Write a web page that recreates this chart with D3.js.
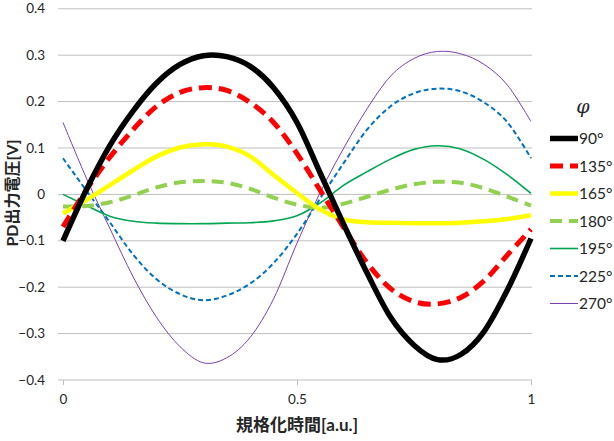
<!DOCTYPE html>
<html lang="ja">
<head>
<meta charset="utf-8">
<title>PD output voltage</title>
<script src="https://cdn.jsdelivr.net/npm/d3@7"></script>
<style>
  body { margin: 0; background: #fff; }
  text { font-family: Lato, "Noto Sans CJK JP", sans-serif; fill: #262626; }
</style>
</head>
<body>
<div id="chart"></div>
<script>
var W = 614, H = 441;

// normalized time samples
var times = [0, 0.05, 0.1, 0.15, 0.2, 0.25, 0.3, 0.35, 0.4, 0.45, 0.5,
             0.55, 0.6, 0.65, 0.7, 0.75, 0.8, 0.85, 0.9, 0.95, 1];

var seriesNames = ["90°", "135°", "165°", "180°", "195°", "225°", "270°"];

var v90  = [-0.10, 0.01, 0.105, 0.18, 0.24, 0.28, 0.299, 0.297, 0.276, 0.23, 0.155,
            0.045, -0.065, -0.17, -0.265, -0.325, -0.356, -0.345, -0.295, -0.205, -0.095];
var v135 = [-0.07, 0.01, 0.08, 0.14, 0.19, 0.22, 0.23, 0.224, 0.198, 0.155, 0.088,
            0.008, -0.072, -0.148, -0.203, -0.231, -0.236, -0.222, -0.186, -0.13, -0.075];
var v165 = [-0.041, -0.012, 0.02, 0.052, 0.082, 0.101, 0.108, 0.103, 0.082, 0.042, 0.003,
            -0.033, -0.054, -0.06, -0.061, -0.062, -0.062, -0.061, -0.058, -0.053, -0.045];
var v180 = [-0.026, -0.025, -0.017, -0.002, 0.015, 0.026, 0.029, 0.025, 0.012, -0.007, -0.022,
            -0.029, -0.02, -0.005, 0.01, 0.022, 0.027, 0.025, 0.013, -0.005, -0.024];
var v195 = [0.0, -0.024, -0.047, -0.058, -0.062, -0.063, -0.063, -0.062, -0.061, -0.057, -0.046,
            -0.018, 0.02, 0.049, 0.076, 0.097, 0.105, 0.098, 0.075, 0.042, 0.002];
var v225 = [0.078, 0.008, -0.06, -0.13, -0.183, -0.215, -0.228, -0.218, -0.192, -0.148, -0.085,
            -0.008, 0.068, 0.14, 0.19, 0.218, 0.228, 0.222, 0.198, 0.155, 0.078];
var v270 = [0.155, 0.035, -0.073, -0.178, -0.265, -0.328, -0.363, -0.352, -0.308, -0.225, -0.105,
            0.005, 0.10, 0.185, 0.255, 0.293, 0.308, 0.303, 0.28, 0.235, 0.157];

var yTicks = [-0.4, -0.3, -0.2, -0.1, 0, 0.1, 0.2, 0.3, 0.4];
var xTicks = [0, 0.5, 1];

var allValues = [v90, v135, v165, v180, v195, v225, v270];

// line looks per series
var styles = [
  { color: "#000000", width: 5.5, dash: null },
  { color: "#ff0000", width: 5,   dash: "13,7" },
  { color: "#ffff00", width: 4.5, dash: null },
  { color: "#92d050", width: 4,   dash: "12,7" },
  { color: "#00a651", width: 1.6, dash: null },
  { color: "#0070c0", width: 2,   dash: "5,3" },
  { color: "#7b3fb0", width: 1,   dash: null }
];

var svg = d3.select("#chart").append("svg")
    .attr("width", W).attr("height", H);

var x = d3.scaleLinear().domain([0, 1]).range([63, 531]);
var y = d3.scaleLinear().domain([-0.4, 0.4]).range([380, 8.8]);

// horizontal gridlines
svg.append("g").selectAll("line")
  .data(yTicks)
  .enter().append("line")
    .attr("x1", 58).attr("x2", 532)
    .attr("y1", function (d) { return y(d); })
    .attr("y2", function (d) { return y(d); })
    .attr("stroke", "#bfbfbf").attr("stroke-width", 1);

// y tick labels
svg.append("g").selectAll("text")
  .data(yTicks)
  .enter().append("text")
    .attr("x", 45)
    .attr("y", function (d) { return y(d) + 4.5; })
    .attr("text-anchor", "end")
    .attr("font-size", 13.5)
    .text(function (d) { return d === 0 ? "0" : d3.format(".1f")(d); });

// x axis ticks + labels
var xAxis = d3.axisBottom(x).tickValues(xTicks).tickSize(5)
    .tickFormat(function (d) { return d === 0 ? "0" : d === 1 ? "1" : "0.5"; });
var gx = svg.append("g").attr("transform", "translate(0,380)").call(xAxis);
gx.select(".domain").remove();
gx.selectAll("line").attr("stroke", "#bfbfbf");
gx.selectAll("text").attr("font-size", 13.5).attr("dy", "1.2em")
  .style("font-family", "Lato, sans-serif").attr("fill", "#262626");

// series lines
var line = d3.line()
    .x(function (d, i) { return x(times[i]); })
    .y(function (d) { return y(d); })
    .curve(d3.curveCatmullRom.alpha(0));

var order = [6, 5, 4, 3, 2, 1, 0];
order.forEach(function (k) {
  var st = styles[k];
  svg.append("path")
    .attr("d", line(allValues[k]))
    .attr("fill", "none")
    .attr("stroke", st.color)
    .attr("stroke-width", st.width)
    .attr("stroke-dasharray", st.dash)
    .attr("stroke-linejoin", "round");
});

// axis titles
svg.append("text")
  .attr("x", 297).attr("y", 431)
  .attr("text-anchor", "middle")
  .attr("font-size", 17).attr("font-weight", "bold")
  .text("規格化時間[a.u.]");

svg.append("text")
  .attr("transform", "translate(18,193) rotate(-90)")
  .attr("text-anchor", "middle")
  .attr("font-size", 16).attr("font-weight", "bold")
  .text("PD出力電圧[V]");

// legend
svg.append("text")
  .attr("x", 583).attr("y", 113)
  .attr("text-anchor", "middle")
  .attr("font-size", 19).attr("font-style", "italic")
  .style("font-family", "'DejaVu Serif', serif")
  .text("φ");

var legend = svg.append("g").selectAll("g")
  .data(seriesNames)
  .enter().append("g")
    .attr("transform", function (d, i) { return "translate(550," + (138.5 + i * 27.5) + ")"; });

legend.append("line")
  .attr("x1", 0).attr("x2", 28).attr("y1", 0).attr("y2", 0)
  .attr("stroke", function (d, i) { return styles[i].color; })
  .attr("stroke-width", function (d, i) { return styles[i].width; })
  .attr("stroke-dasharray", function (d, i) { return styles[i].dash; });

legend.append("text")
  .attr("x", 29).attr("y", 5.5)
  .attr("font-size", 15.5)
  .text(function (d) { return d; });
</script>
</body>
</html>
